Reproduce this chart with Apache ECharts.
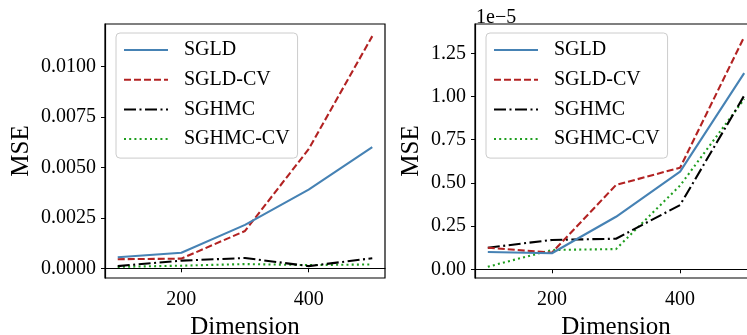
<!DOCTYPE html>
<html>
<head>
<meta charset="utf-8">
<script src="https://cdn.jsdelivr.net/npm/echarts@6/dist/echarts.min.js"></script>
<style>
  html, body { margin: 0; padding: 0; background: #fff; }
  #chart { width: 747px; height: 335px; }
</style>
</head>
<body>
<div id="chart"></div>
<script>
// Dimension of the problem (x axis, shared by both panels)
const dimensions = [100, 200, 300, 400, 500];

// Left panel: MSE
const sgldLeft    = [0.00055, 0.00077, 0.00215, 0.0039, 0.0060];
const sgldCvLeft  = [0.00045, 0.00048, 0.00185, 0.0059, 0.0115];
const sghmcLeft   = [0.00011, 0.00038, 0.00051, 0.00011, 0.0005];
const sghmcCvLeft = [0.00007, 0.00013, 0.00021, 0.00016, 0.00019];

// Right panel: MSE in units of 1e-5
const sgldRight    = [0.100, 0.093, 0.304, 0.565, 1.135];
const sgldCvRight  = [0.125, 0.096, 0.488, 0.588, 1.345];
const sghmcRight   = [0.125, 0.170, 0.177, 0.372, 1.005];
const sghmcCvRight = [0.015, 0.112, 0.117, 0.485, 0.985];

// Tick positions
const xTicks = [200, 400];
const yTicksLeft = [0, 0.0025, 0.005, 0.0075, 0.01];
const yTicksRight = [0, 0.25, 0.5, 0.75, 1.0, 1.25];

const methodNames = ['SGLD', 'SGLD-CV', 'SGHMC', 'SGHMC-CV'];
const methodStyles = [
  { color: '#4682b4', type: 'solid' },
  { color: '#b22222', type: [7, 3] },
  { color: '#000000', type: [12, 3.5, 2, 3.5] },
  { color: '#1f9e1f', type: [2, 3.2] }
];

const FONT = 'Liberation Serif';

function pairs(ys) { return dimensions.map((x, i) => [x, ys[i]]); }

function makeSeries(arrays, gridIndex) {
  return arrays.map((ys, i) => ({
    name: methodNames[i],
    type: 'line',
    xAxisIndex: gridIndex,
    yAxisIndex: gridIndex,
    data: pairs(ys),
    symbol: 'none',
    clip: true,
    lineStyle: { color: methodStyles[i].color, width: 2.1, type: methodStyles[i].type },
    itemStyle: { color: methodStyles[i].color },
    z: 10 - i
  }));
}

function makeXAxis(gridIndex) {
  return {
    type: 'value', gridIndex: gridIndex, min: 80, max: 520,
    name: 'Dimension', nameLocation: 'middle', nameGap: 33,
    nameTextStyle: { fontFamily: FONT, fontSize: 25, color: '#000' },
    axisLine: { show: true, lineStyle: { color: '#000', width: 1.2 } },
    axisTick: { show: true, inside: false, length: 4, lineStyle: { color: '#000', width: 1 }, customValues: xTicks },
    axisLabel: { fontFamily: FONT, fontSize: 20, color: '#000', margin: 12, customValues: xTicks },
    splitLine: { show: false }
  };
}

function makeYAxis(gridIndex, min, max, ticks, digits, gap) {
  return {
    type: 'value', gridIndex: gridIndex, min: min, max: max,
    name: 'MSE', nameLocation: 'middle', nameGap: gap, nameRotate: 90,
    nameTextStyle: { fontFamily: FONT, fontSize: 25, color: '#000' },
    axisLine: { show: true, lineStyle: { color: '#000', width: 1.2 } },
    axisTick: { show: true, inside: false, length: 4, lineStyle: { color: '#000', width: 1 }, customValues: ticks },
    axisLabel: { fontFamily: FONT, fontSize: 20, color: '#000', margin: 9, customValues: ticks,
                 formatter: v => v.toFixed(digits) },
    splitLine: { show: false }
  };
}

function makeLegend(left) {
  return {
    orient: 'vertical', left: left, top: 33,
    data: methodNames,
    itemWidth: 44, itemHeight: 14, itemGap: 9.7,
    padding: [7, 8, 9, 7],
    backgroundColor: 'rgba(255,255,255,0.8)',
    borderColor: '#cccccc', borderWidth: 1, borderRadius: 4,
    selectedMode: false,
    itemStyle: { opacity: 0 },
    textStyle: { fontFamily: FONT, fontSize: 20, color: '#000', lineHeight: 20, padding: [0, 0, 0, 11] }
  };
}

const chart = echarts.init(document.getElementById('chart'), null, { renderer: 'canvas' });
chart.setOption({
  backgroundColor: '#fff',
  animation: false,
  grid: [
    { left: 105, top: 24, width: 280, height: 254, outerBoundsMode: 'none', show: true, borderColor: '#000', borderWidth: 1.2, backgroundColor: 'transparent' },
    { left: 475, top: 24, width: 282, height: 254, outerBoundsMode: 'none', show: true, borderColor: '#000', borderWidth: 1.2, backgroundColor: 'transparent' }
  ],
  xAxis: [makeXAxis(0), makeXAxis(1)],
  yAxis: [
    makeYAxis(0, -0.00048, 0.01210, yTicksLeft, 4, 71),
    makeYAxis(1, -0.0503, 1.4196, yTicksRight, 2, 51)
  ],
  legend: [makeLegend(116), makeLegend(486)],
  graphic: [{
    type: 'text', left: 476, top: 8,
    style: { text: '1e\u22125', fontFamily: FONT, fontSize: 20, fill: '#000' }
  }],
  series: [
    ...makeSeries([sgldLeft, sgldCvLeft, sghmcLeft, sghmcCvLeft], 0),
    ...makeSeries([sgldRight, sgldCvRight, sghmcRight, sghmcCvRight], 1)
  ]
});
</script>
</body>
</html>
